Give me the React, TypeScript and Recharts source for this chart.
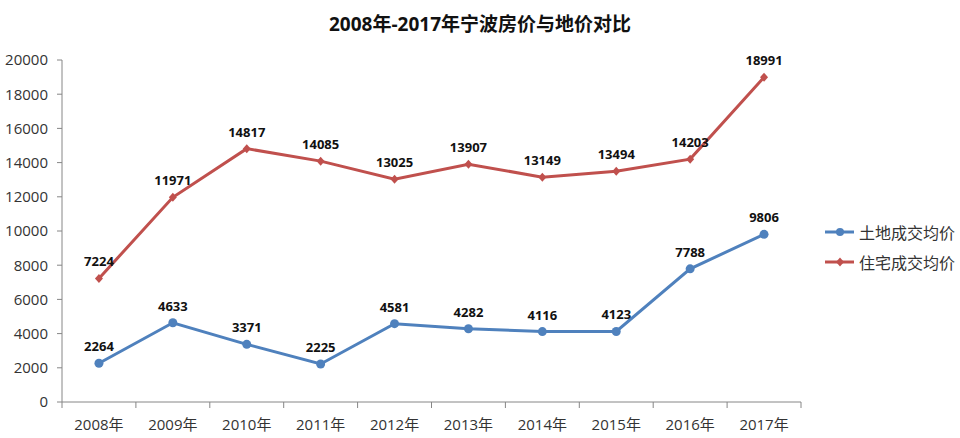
import { LineChart, Line, XAxis, YAxis, LabelList } from "recharts";

const years = ["2008年", "2009年", "2010年", "2011年", "2012年", "2013年", "2014年", "2015年", "2016年", "2017年"];
const landPrice = [2264, 4633, 3371, 2225, 4581, 4282, 4116, 4123, 7788, 9806];
const housePrice = [7224, 11971, 14817, 14085, 13025, 13907, 13149, 13494, 14203, 18991];
const yTicks = [0, 2000, 4000, 6000, 8000, 10000, 12000, 14000, 16000, 18000, 20000];

const data = years.map((year, i) => ({ year, land: landPrice[i], house: housePrice[i] }));

const BLUE = "#4F81BD";
const RED = "#C0504D";
const AXIS = "#868686";
const FONT = "'Open Sans', 'Noto Sans CJK SC', sans-serif";

const W = 960;
const H = 438;
const LEFT = 62;
const RIGHT = 159;
const HALF = (W - LEFT - RIGHT) / 20;

function XTick(props: any) {
    const { x, y, payload, index } = props;
    const last = index === years.length - 1;
    return (
        <g>
            <line x1={x - HALF} y1={y - 8} x2={x - HALF} y2={y - 2} stroke={AXIS} />
            {last && <line x1={x + HALF} y1={y - 8} x2={x + HALF} y2={y - 2} stroke={AXIS} />}
            <text x={x} y={y + 20} textAnchor="middle" fontSize={15} fill="#333" fontFamily={FONT}>
                {payload.value}
            </text>
        </g>
    );
}

function Diamond(props: any) {
    const { cx, cy } = props;
    if (cx == null || cy == null) return null;
    return <path d={`M${cx},${cy - 4.5}L${cx + 4}, ${cy}L${cx},${cy + 4.5}L${cx - 4},${cy}Z`} fill={RED} />;
}

const legendItems = [
    { name: "土地成交均价", color: BLUE, dot: "circle" },
    { name: "住宅成交均价", color: RED, dot: "diamond" },
];

function LegendBox() {
    return (
        <div style={{ position: "absolute", left: 824, top: 217, fontFamily: FONT }}>
            {legendItems.map((it) => (
                <div key={it.name} style={{ display: "flex", alignItems: "center", height: 30 }}>
                    <svg width={32} height={12}>
                        <line x1={1} y1={6} x2={30} y2={6} stroke={it.color} strokeWidth={3} />
                        {it.dot === "circle" ? (
                            <circle cx={16} cy={6} r={4} fill={it.color} />
                        ) : (
                            <path d="M16,1.5L20,6L16,10.5L12,6Z" fill={it.color} />
                        )}
                    </svg>
                    <span style={{ fontSize: 16, color: "#333", marginLeft: 3 }}>{it.name}</span>
                </div>
            ))}
        </div>
    );
}

export default function App() {
    return (
        <div style={{ position: "fixed", left: 0, top: 0, width: W, height: H, background: "#fff" }}>
            <div
                style={{
                    position: "absolute",
                    top: 9,
                    width: W,
                    textAlign: "center",
                    fontFamily: FONT,
                    fontWeight: 700,
                    fontSize: 19,
                    color: "#111",
                }}
            >
                2008年-2017年宁波房价与地价对比
            </div>
            <LineChart width={W} height={H} data={data} margin={{ top: 60, right: RIGHT, left: 0, bottom: 0 }}>
                <XAxis
                    dataKey="year"
                    padding={{ left: HALF, right: HALF }}
                    height={36}
                    axisLine={{ stroke: AXIS }}
                    tickLine={false}
                    tick={<XTick />}
                    interval={0}
                />
                <YAxis
                    domain={[0, 20000]}
                    ticks={yTicks}
                    width={LEFT}
                    axisLine={{ stroke: AXIS }}
                    tickLine={{ stroke: AXIS }}
                    tickSize={5}
                    tickMargin={9}
                    tick={{ fontSize: 15, fill: "#333", fontFamily: FONT }}
                    interval={0}
                />
                <Line
                    dataKey="land"
                    name="土地成交均价"
                    stroke={BLUE}
                    strokeWidth={3}
                    dot={{ r: 4.5, fill: BLUE, stroke: BLUE, strokeWidth: 0 }}
                    isAnimationActive={false}
                >
                    <LabelList dataKey="land" position="top" offset={12} fontSize={13} fontWeight={700} fill="#111" fontFamily={FONT} />
                </Line>
                <Line
                    dataKey="house"
                    name="住宅成交均价"
                    stroke={RED}
                    strokeWidth={3}
                    dot={<Diamond />}
                    isAnimationActive={false}
                >
                    <LabelList dataKey="house" position="top" offset={12} fontSize={13} fontWeight={700} fill="#111" fontFamily={FONT} />
                </Line>
            </LineChart>
            <LegendBox />
        </div>
    );
}
